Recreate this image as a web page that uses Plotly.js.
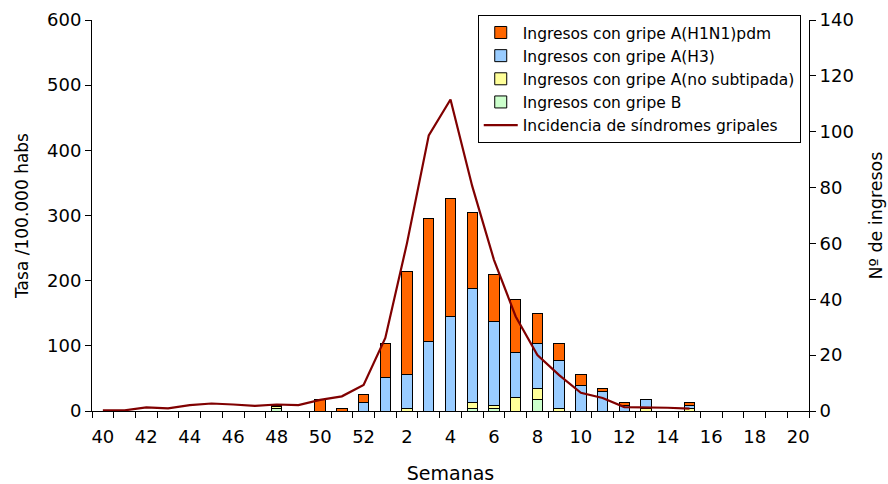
<!DOCTYPE html>
<html><head><meta charset="utf-8">
<script src="https://cdn.plot.ly/plotly-3.0.1.min.js"></script>
<style>html,body{margin:0;padding:0;background:#fff}</style>
</head><body>
<div id="chart" style="width:888px;height:484px"></div>
<script>
// Semanas 40..52 (2010) y 1..20 (2011)
const weeks = ['40','41','42','43','44','45','46','47','48','49','50','51','52',
  '1','2','3','4','5','6','7','8','9','10','11','12','13','14','15','16','17','18','19','20'];
const tickLabels = ['40','','42','','44','','46','','48','','50','','52',
  '','2','','4','','6','','8','','10','','12','','14','','16','','18','','20'];

// Ingresos (eje derecho)
const gripeB      = [null,null,null,null,null,null,null,null,1,null,null,null,null,
  null,null,null,null,1,1,null,4,null,null,null,null,null,null,null,null,null,null,null,null];
const noSubtipada = [null,null,null,null,null,null,null,null,0.5,null,null,null,null,
  null,1,null,null,2,1,5,4,1,null,null,null,1,null,1,null,null,null,null,null];
const h3          = [null,null,null,null,null,null,null,null,null,null,null,null,3,
  12,12,25,34,41,30,16,16,17,9,7,2,3,null,1,null,null,null,null,null];
const h1n1pdm     = [null,null,null,null,null,null,null,null,0.5,null,4,1,3,
  12,37,44,42,27,17,19,11,6,4,1,1,null,null,1,null,null,null,null,null];

// Incidencia (tasa /100.000 habs, eje izquierdo)
const incidencia  = [1,1,5.5,4,9,11.5,10,8,10,9,17,22.5,40,
  112,258,423,478,345,232,145,86,55,28,20,6,6,5,3.5,null,null,null,null,null];

const FONT = 'DejaVu Sans';
const barLine = {color:'#000000', width:1};
function bar(name, y, color, rank){
  return {type:'bar', name:name, x:weeks, y:y, yaxis:'y',
    marker:{color:color, line:barLine}, legendrank:rank, hoverinfo:'x+y+name'};
}
const traces = [
  bar('Ingresos con gripe B', gripeB, '#CCFFCC', 4),
  bar('Ingresos con gripe A(no subtipada)', noSubtipada, '#FFFF99', 3),
  bar('Ingresos con gripe A(H3)', h3, '#99CCFF', 2),
  bar('Ingresos con gripe A(H1N1)pdm', h1n1pdm, '#FF6600', 1),
  {type:'scatter', mode:'lines', name:'Incidencia de síndromes gripales',
    x:weeks, y:incidencia, yaxis:'y2', line:{color:'#800000', width:2.2},
    connectgaps:false, legendrank:5}
];

const layout = {
  width:888, height:484,
  margin:{l:92, r:79, t:20, b:73, pad:0},
  paper_bgcolor:'#ffffff', plot_bgcolor:'#ffffff',
  font:{family:FONT, size:18, color:'#000000'},
  barmode:'stack', bargap:0.52,
  showlegend:true,
  legend:{x:0.538, y:1.013, xanchor:'left', yanchor:'top',
    bgcolor:'#ffffff', bordercolor:'#000000', borderwidth:1,
    font:{family:FONT, size:15.5, color:'#000000'}, traceorder:'normal',
    tracegroupgap:0, itemwidth:34},
  xaxis:{type:'category', categoryorder:'array', categoryarray:weeks,
    range:[-0.5, 32.5], tickmode:'array', tickvals:weeks, ticktext:tickLabels,
    tickson:'boundaries', ticks:'outside', ticklen:6, tickcolor:'#000000',
    showline:true, linecolor:'#000000', linewidth:1, showgrid:false, zeroline:false,
    tickfont:{family:FONT, size:18}, tickangle:0, ticklabelstandoff:9,
    title:{text:'Semanas', font:{family:FONT, size:19}, standoff:22}},
  yaxis:{side:'right', range:[0,140], dtick:20, tick0:0,
    ticks:'outside', ticklen:6, tickcolor:'#000000',
    showline:true, linecolor:'#000000', linewidth:1, showgrid:false, zeroline:false,
    tickfont:{family:FONT, size:18},
    title:{text:'Nº de ingresos', font:{family:FONT, size:17.5}, standoff:16}},
  yaxis2:{overlaying:'y', side:'left', range:[0,600], dtick:100, tick0:0,
    ticks:'outside', ticklen:6, tickcolor:'#000000',
    showline:true, linecolor:'#000000', linewidth:1, showgrid:false, zeroline:false,
    tickfont:{family:FONT, size:18},
    title:{text:'Tasa /100.000 habs', font:{family:FONT, size:17}, standoff:14}}
};
Plotly.newPlot('chart', traces, layout, {displayModeBar:false, staticPlot:true});
</script>
</body></html>
